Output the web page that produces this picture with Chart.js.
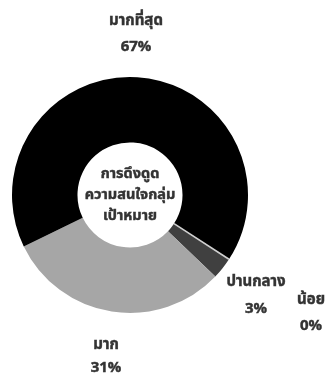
<!DOCTYPE html>
<html>
<head>
<meta charset="utf-8">
<script src="https://cdn.jsdelivr.net/npm/chart.js@4/dist/chart.umd.min.js"></script>
<style>
  html, body { margin: 0; padding: 0; background: #fff; }
  #wrap { width: 325px; height: 377px; position: relative; }
</style>
</head>
<body>
<div id="wrap"><canvas id="c" width="325" height="377"></canvas></div>
<script>
// Survey result: level of target-audience attraction
const categories = ['น้อย', 'ปานกลาง', 'มาก', 'มากที่สุด'];
const percentValues = [0, 3, 31, 67];
const sliceColors = ['#d0d0d0', '#404040', '#a6a6a6', '#000000'];
const centerTitle = ['การดึงดูด', 'ความสนใจกลุ่ม', 'เป้าหมาย'];

const FONT = '"Noto Sans Thai", "Noto Sans Thai UI", "Noto Sans", "DejaVu Sans", sans-serif';
const TEXT_COLOR = '#333333';

// Label anchors, as offsets (px) from the doughnut centre: [name line, value line]
const labelOffsets = [
  { dx: 181, dy: 106, gap: 26 },  // น้อย
  { dx: 126, dy: 88,  gap: 27 },  // ปานกลาง
  { dx: -24, dy: 151, gap: 23 },  // มาก
  { dx: 6,   dy: -173, gap: 26 }  // มากที่สุด
];

// filled text with a thin outline in the same colour for a heavier weight
function heavyText(ctx, text, x, y) {
  ctx.fillText(text, x, y);
  ctx.strokeText(text, x, y);
}

const labelsPlugin = {
  id: 'sliceLabels',
  afterDatasetsDraw(chart) {
    const ctx = chart.ctx;
    const meta = chart.getDatasetMeta(0);
    const first = meta.data[0];
    const cx = first.x, cy = first.y;

    // separator drawn at the position of the zero-value slice
    meta.data.forEach((arc, i) => {
      if (percentValues[i] === 0) {
        const a = arc.startAngle;
        ctx.save();
        ctx.strokeStyle = sliceColors[i];
        ctx.lineWidth = 1.6;
        ctx.beginPath();
        ctx.moveTo(cx + Math.cos(a) * arc.innerRadius, cy + Math.sin(a) * arc.innerRadius);
        ctx.lineTo(cx + Math.cos(a) * arc.outerRadius, cy + Math.sin(a) * arc.outerRadius);
        ctx.stroke();
        ctx.restore();
      }
    });

    ctx.save();
    ctx.fillStyle = TEXT_COLOR;
    ctx.strokeStyle = TEXT_COLOR;
    ctx.lineWidth = 0.45;
    ctx.textAlign = 'center';
    ctx.textBaseline = 'middle';
    ctx.font = 'bold 15px ' + FONT;
    categories.forEach((name, i) => {
      const o = labelOffsets[i];
      heavyText(ctx, name, cx + o.dx, cy + o.dy);
      heavyText(ctx, percentValues[i] + '%', cx + o.dx, cy + o.dy + o.gap);
    });

    // title inside the hole
    ctx.font = 'bold 14.5px ' + FONT;
    centerTitle.forEach((line, k) => {
      heavyText(ctx, line, cx, cy + (k - 1) * 21 + 1);
    });
    ctx.restore();
  }
};

new Chart(document.getElementById('c'), {
  type: 'doughnut',
  data: {
    labels: categories,
    datasets: [{
      data: percentValues,
      backgroundColor: sliceColors,
      borderWidth: 0
    }]
  },
  options: {
    responsive: false,
    animation: false,
    rotation: 123,
    cutout: '44.5%',
    layout: { padding: { left: 12, right: 77, top: 77, bottom: 64 } },
    plugins: {
      legend: { display: false },
      tooltip: { enabled: false }
    }
  },
  plugins: [labelsPlugin]
});
</script>
</body>
</html>
